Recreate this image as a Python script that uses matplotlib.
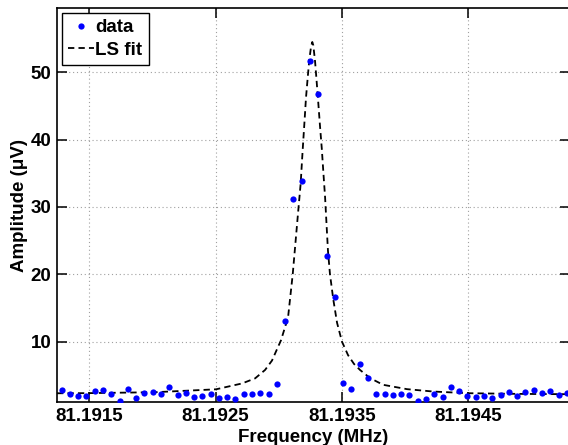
import matplotlib
matplotlib.use("Agg")
import matplotlib.pyplot as plt

plt.rcParams['font.family'] = ['Liberation Sans', 'DejaVu Sans']
plt.rcParams['font.weight'] = 'bold'

# ---- data ----
freq_mhz = [
    81.191280, 81.191346, 81.191411, 81.191477, 81.191542, 81.191608, 81.191673,
    81.191739, 81.191805, 81.191870, 81.191936, 81.192001, 81.192067, 81.192132,
    81.192198, 81.192264, 81.192329, 81.192395, 81.192460, 81.192526, 81.192591,
    81.192657, 81.192723, 81.192788, 81.192854, 81.192919, 81.192985, 81.193050,
    81.193116, 81.193182, 81.193247, 81.193313, 81.193378, 81.193444, 81.193509,
    81.193575, 81.193641, 81.193706, 81.193772, 81.193837, 81.193903, 81.193968,
    81.194034, 81.194100, 81.194165, 81.194231, 81.194296, 81.194362, 81.194427,
    81.194493, 81.194559, 81.194624, 81.194690, 81.194755, 81.194821, 81.194886,
    81.194952, 81.195018, 81.195083, 81.195149, 81.195214, 81.195280,
]
amplitude_uv = [
    2.83, 2.19, 1.98, 1.94, 2.72, 2.83, 2.19, 1.24, 3.02, 1.64, 2.43, 2.53, 2.19,
    3.27, 2.04, 2.34, 1.83, 1.94, 2.19, 1.64, 1.74, 1.45, 2.23, 2.23, 2.45, 2.23,
    3.74, 13.03, 31.25, 33.9, 51.7, 46.8, 22.7, 16.6, 3.91, 2.93, 6.66, 4.65,
    2.23, 2.23, 2.04, 2.23, 2.13, 1.24, 1.49, 2.28, 1.83, 3.27, 2.68, 1.94, 1.83,
    1.98, 1.69, 2.04, 2.49, 1.94, 2.53, 2.83, 2.43, 2.68, 2.09, 2.43,
]

fit_freq_mhz = [
    81.191244, 81.191490, 81.192020, 81.192503, 81.192709, 81.192812, 81.192891,
    81.192946, 81.192986, 81.193017, 81.193073, 81.193110, 81.193154, 81.193173,
    81.193184, 81.193194, 81.193205, 81.193215, 81.193229, 81.193241, 81.193255,
    81.193265, 81.193273, 81.193287, 81.193300, 81.193313, 81.193326, 81.193340,
    81.193352, 81.193366, 81.193389, 81.193405, 81.193431, 81.193461, 81.193500,
    81.193548, 81.193595, 81.193643, 81.193722, 81.193825, 81.194015, 81.194221,
    81.194498, 81.194886, 81.195305,
]
fit_amplitude_uv = [
    2.34, 2.36, 2.50, 2.93, 3.80, 4.55, 5.80,
    7.20, 8.90, 10.20, 13.6, 20.0, 29.5, 33.5,
    37.0, 40.0, 43.2, 46.2, 49.3, 51.8, 53.8,
    54.5, 54.0, 51.6, 48.5, 45.3, 42.0, 38.7,
    35.3, 31.5, 23.5, 20.0, 16.3, 12.8, 10.0,
    8.0, 6.7, 5.8, 4.6, 3.6, 2.95, 2.6,
    2.35, 2.25, 2.2,
]

x_ticks = [81.1915, 81.1925, 81.1935, 81.1945]
x_tick_labels = ['81.1915', '81.1925', '81.1935', '81.1945']
y_ticks = [10, 20, 30, 40, 50]

# ---- figure ----
W, H = 568, 445
fig = plt.figure(figsize=(W / 100, H / 100), dpi=100)
left_px, right_px, top_px, bottom_px = 57, 570, 8.3, 402.3
ax = fig.add_axes([left_px / W, 1 - bottom_px / H,
                   (right_px - left_px) / W, (bottom_px - top_px) / H])

ax.plot(freq_mhz, amplitude_uv, linestyle='none', marker='o', markersize=4.5,
        color=(0, 0, 1), markeredgewidth=0, label='data', zorder=3, clip_on=True)
ax.plot(fit_freq_mhz, fit_amplitude_uv, linestyle=(0, (3.5, 2.3)), color='black',
        linewidth=1.3, label='LS fit', zorder=2)

ax.set_xlim(81.191244, 81.195305)
ax.set_ylim(1.0, 59.5)
ax.set_xticks(x_ticks)
ax.set_xticklabels(x_tick_labels)
ax.set_yticks(y_ticks)

ax.grid(True, linestyle=(0, (1, 2.5)), color='#a0a0a0', linewidth=0.8)
ax.set_axisbelow(True)

for s in ax.spines.values():
    s.set_linewidth(1.2)
    s.set_color('black')

ax.tick_params(direction='in', length=7, width=1.1, labelsize=13.5,
               top=True, right=True, pad=4)
for lab in ax.get_xticklabels() + ax.get_yticklabels():
    lab.set_fontweight('bold')

ax.set_xlabel('Frequency (MHz)', fontsize=13.5, fontweight='bold', labelpad=3)
ax.set_ylabel('Amplitude (μV)', fontsize=13.5, fontweight='bold', labelpad=2)

leg = ax.legend(loc='upper left', frameon=True, fancybox=False,
                borderaxespad=0.25, handlelength=1.4, handletextpad=0.08,
                borderpad=0.32, labelspacing=0.3, markerscale=1.0,
                prop={'weight': 'bold', 'size': 13.5})
leg.get_frame().set_edgecolor('black')
leg.get_frame().set_linewidth(1.0)
leg.get_frame().set_alpha(1.0)

fig.savefig('out.png', dpi=100)
